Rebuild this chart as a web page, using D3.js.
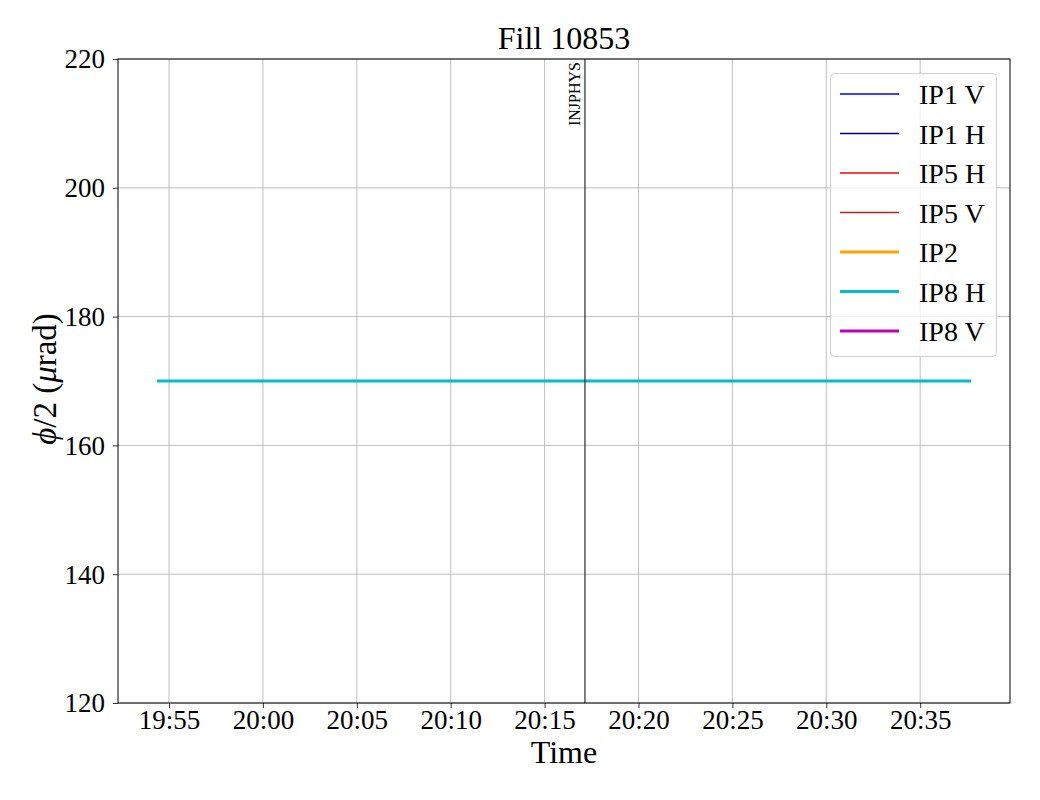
<!DOCTYPE html>
<html><head><meta charset="utf-8">
<script src="https://cdn.jsdelivr.net/npm/d3@7"></script>
<style>body{margin:0;background:#fff}svg text{font-family:"Liberation Serif","DejaVu Serif",serif}</style>
</head><body><svg id="c" width="1040" height="800"></svg>
<script>
const title = "Fill 10853";
const seriesNames = ["IP1 V","IP1 H","IP5 H","IP5 V","IP2","IP8 H","IP8 V"];
const seriesColors = ["#0000ff","#00008b","#ff0000","#b22222","#ffa500","#00bfbf","#bf00bf"];
const seriesWidths = [1.5,1.5,1.5,1.5,3,3,3];
const times = ["19:54:22","20:37:43"];
const ip8hValues = [170,170];
const yTicks = [120,140,160,180,200,220];
const xTickLabels = ["19:55","20:00","20:05","20:10","20:15","20:20","20:25","20:30","20:35"];
const eventTime = "20:17:09";
const eventLabel = "INJPHYS";

const parse = d3.timeParse("%H:%M:%S");
const svg = d3.select("#c");
const m = {l:118, r:1010, t:59, b:703};
const x = d3.scaleTime().domain([parse("19:52:17"), parse("20:39:47")]).range([m.l, m.r]);
const y = d3.scaleLinear().domain([120,220]).range([m.b, m.t]);
const xt = xTickLabels.map(s => parse(s+":00"));

// grid
svg.append("g").selectAll("line").data(xt).join("line")
  .attr("x1",d=>x(d)).attr("x2",d=>x(d)).attr("y1",m.t).attr("y2",m.b)
  .attr("stroke","#b0b0b0").attr("stroke-width",0.8);
svg.append("g").selectAll("line").data(yTicks).join("line")
  .attr("x1",m.l).attr("x2",m.r).attr("y1",d=>y(d)).attr("y2",d=>y(d))
  .attr("stroke","#b0b0b0").attr("stroke-width",0.8);

// series (only IP8 H visible, drawn last)
const line = d3.line().x(d=>x(parse(d.t))).y(d=>y(d.v));
const data = times.map((t,i)=>({t, v: ip8hValues[i]}));
svg.append("path").datum(data).attr("d",line).attr("fill","none")
  .attr("stroke",seriesColors[5]).attr("stroke-width",3);

// event line
const ex = x(parse(eventTime));
svg.append("line").attr("x1",ex).attr("x2",ex).attr("y1",m.t).attr("y2",m.b)
  .attr("stroke","#000").attr("stroke-width",1);
svg.append("text").attr("transform",`translate(${ex-5},${m.t+3}) rotate(-90)`)
  .attr("text-anchor","end").attr("font-size",16).text(eventLabel);

// axes
const xAxis = d3.axisBottom(x).tickValues(xt).tickFormat(d3.timeFormat("%H:%M")).tickSize(5).tickPadding(4);
const gx = svg.append("g").attr("transform",`translate(0,${m.b})`).call(xAxis);
const yAxis = d3.axisLeft(y).tickValues(yTicks).tickSize(5).tickPadding(8);
const gy = svg.append("g").attr("transform",`translate(${m.l},0)`).call(yAxis);
[gx,gy].forEach(g=>{
  g.select(".domain").remove();
  g.selectAll("text").attr("font-size",27).attr("fill","#000").attr("font-family","Liberation Serif");
  g.selectAll(".tick line").attr("stroke","#000").attr("stroke-width",0.8);
});
gx.selectAll("text").attr("y",26).attr("dy",0);
gy.selectAll("text").attr("dy","0.33em");
svg.append("rect").attr("x",m.l).attr("y",m.t).attr("width",m.r-m.l).attr("height",m.b-m.t)
  .attr("fill","none").attr("stroke","#000").attr("stroke-width",1);

// labels
svg.append("text").attr("x",(m.l+m.r)/2).attr("y",49).attr("text-anchor","middle").attr("font-size",32).text(title);
svg.append("text").attr("x",(m.l+m.r)/2).attr("y",763).attr("text-anchor","middle").attr("font-size",32).text("Time");
const yl = svg.append("text").attr("transform","translate(56,379) rotate(-90)").attr("text-anchor","middle").attr("font-size",33);
yl.append("tspan").attr("font-style","italic").text("ϕ");
yl.append("tspan").text("/2 (");
yl.append("tspan").attr("font-style","italic").text("μ");
yl.append("tspan").text("rad)");

// legend
const lg = svg.append("g");
lg.append("rect").attr("x",830.5).attr("y",73.5).attr("width",166).attr("height",283).attr("rx",4)
  .attr("fill","#fff").attr("fill-opacity",0.8).attr("stroke","#d0d0d0").attr("stroke-width",1);
seriesNames.forEach((n,i)=>{
  const yy = 94 + i*39.5;
  lg.append("line").attr("x1",840).attr("x2",899).attr("y1",yy).attr("y2",yy)
    .attr("stroke",seriesColors[i]).attr("stroke-width",seriesWidths[i]);
  lg.append("text").attr("x",919).attr("y",yy+10).attr("font-size",28).text(n);
});
</script></body></html>
